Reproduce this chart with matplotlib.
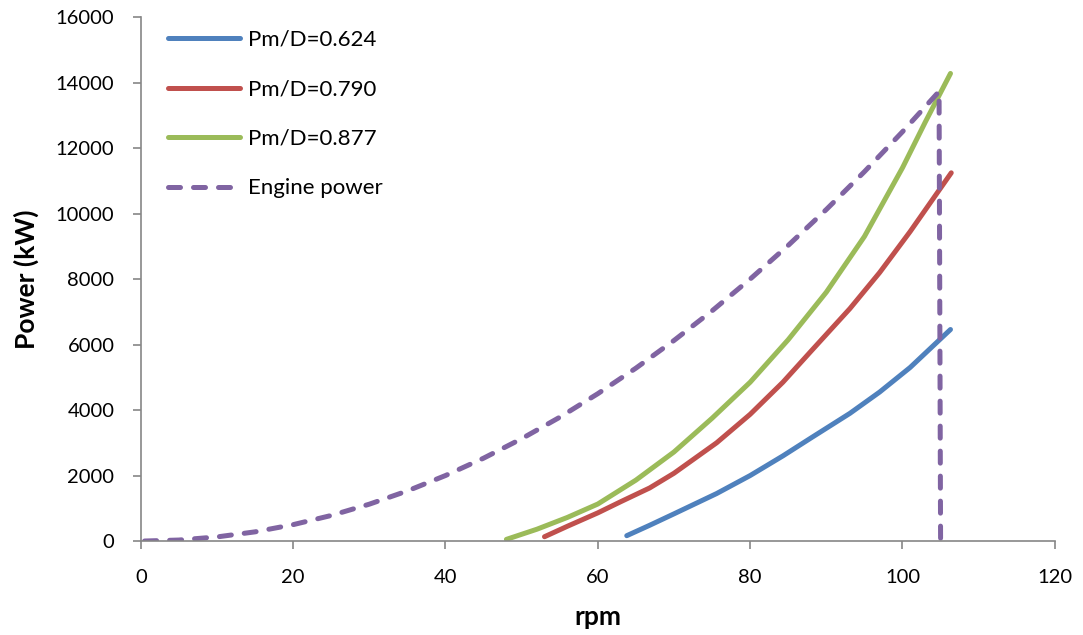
import matplotlib.pyplot as plt

plt.rcParams['font.family'] = ['Lato', 'DejaVu Sans']

# data
rpm_624 = [63.8, 66.8, 70, 75.6, 80, 84.3, 88, 93.1, 97, 101, 106.3]
pw_624 = [163, 480, 830, 1450, 2000, 2600, 3150, 3900, 4550, 5300, 6460]

rpm_790 = [53.0, 56, 60, 63, 66.8, 70, 75.6, 80, 84.3, 88, 93.1, 97, 101, 106.4]
pw_790 = [131, 450, 860, 1200, 1620, 2070, 3000, 3870, 4850, 5800, 7100, 8200, 9450, 11245]

rpm_877 = [48, 52, 56, 60, 65, 70, 75, 80, 85, 90, 95, 100, 103, 106.3]
pw_877 = [50, 360, 720, 1130, 1860, 2720, 3750, 4850, 6150, 7600, 9300, 11400, 12800, 14280]

rpm_eng = [0.5, 5, 10, 15, 20, 25, 30, 35, 40, 45, 50, 55, 60, 65, 70, 75, 80,
           85, 90, 95, 100, 104.8, 105]
pw_eng = [0, 30, 125, 280, 500, 780, 1125, 1530, 2000, 2530, 3125, 3780, 4500,
          5280, 6125, 7030, 8000, 9030, 10125, 11280, 12500, 13730, 0]

fig = plt.figure(figsize=(10.83, 6.35), dpi=100)
ax = fig.add_axes([0.130, 0.148, 0.844, 0.825])

lw = 3.6
ax.plot(rpm_624, pw_624, color='#4F81BD', lw=lw, solid_capstyle='round',
        solid_joinstyle='round', label='Pm/D=0.624')
ax.plot(rpm_790, pw_790, color='#C0504D', lw=lw, solid_capstyle='round',
        solid_joinstyle='round', label='Pm/D=0.790')
ax.plot(rpm_877, pw_877, color='#9BBB59', lw=lw, solid_capstyle='round',
        solid_joinstyle='round', label='Pm/D=0.877')
ax.plot(rpm_eng, pw_eng, color='#8064A2', lw=lw, dashes=(2.4, 2.6),
        dash_capstyle='round', label='Engine power')

ax.set_xlim(0, 120)
ax.set_ylim(0, 16000)
ax.set_xticks(range(0, 121, 20))
ax.set_yticks(range(0, 16001, 2000))

for s in ['top', 'right']:
    ax.spines[s].set_visible(False)
for s in ['left', 'bottom']:
    ax.spines[s].set_color('#868686')
    ax.spines[s].set_linewidth(1.2)
ax.tick_params(direction='out', length=6, width=1.2, color='#868686',
               labelsize=14.5)
ax.tick_params(axis='x', pad=14)
ax.tick_params(axis='y', pad=13)

ax.set_xlabel('rpm', fontsize=19, fontweight='bold', labelpad=14)
ax.set_ylabel('Power (kW)', fontsize=19, fontweight='bold', labelpad=12)

ax.legend(loc='upper left', bbox_to_anchor=(0.008, 1.014), frameon=False,
          fontsize=16, handlelength=3.25, labelspacing=1.33, handletextpad=0.35)

plt.savefig('out.png', dpi=100)
